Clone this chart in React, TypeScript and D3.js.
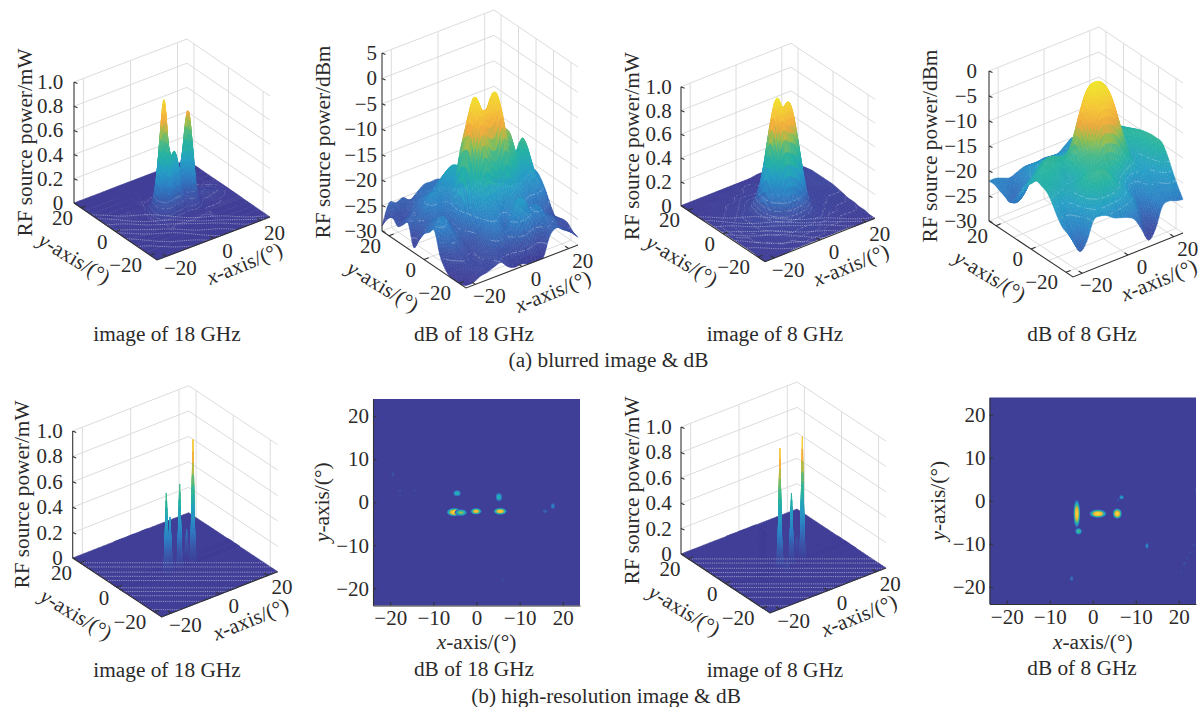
import React, { useEffect, useRef } from 'react';
import * as d3 from 'd3';

const FONT = '"Liberation Serif", serif';
const TEXT = '#2b2a2a';
const GRID = '#dcdcdc';
const BG_BLUE = '#403f97';

const gridAxis = [-24, -21, -18, -15, -12, -9, -6, -3, 0, 3, 6, 9, 12, 15, 18, 21, 24];
const gridRowsAxis = [24, 21, 18, 15, 12, 9, 6, 3, 0, -3, -6, -9, -12, -15, -18, -21, -24];

// blurred image, 18 GHz
const image18X = [-24, -12, -9, -7.5, -6, -4.5, -3, -1.5, 0, 1.5, 3, 4.5, 6, 7.5, 9, 11, 14, 24];
const image18Y = [24, 8, 5, 3, 1.5, 0, -1.5, -3, -4.5, -6, -8, -24];
const image18Z = [
  [0, 0, 0, 0, 0, 0, 0, 0, 0, 0, 0, 0, 0, 0, 0, 0, 0, 0],
  [0, 0, 0, 0, 0.01, 0.01, 0.01, 0.01, 0.01, 0.01, 0.01, 0.01, 0.01, 0.01, 0.01, 0.01, 0.01, 0],
  [0, 0, 0, 0.01, 0.03, 0.05, 0.03, 0.02, 0.02, 0.02, 0.02, 0.03, 0.05, 0.03, 0.02, 0.02, 0.02, 0],
  [0, 0, 0.01, 0.03, 0.1, 0.15, 0.1, 0.07, 0.06, 0.05, 0.06, 0.12, 0.18, 0.12, 0.04, 0.03, 0.04, 0],
  [0, 0, 0.01, 0.06, 0.22, 0.35, 0.25, 0.18, 0.15, 0.12, 0.12, 0.3, 0.42, 0.28, 0.08, 0.04, 0.05, 0],
  [0, 0, 0.02, 0.1, 0.42, 0.72, 0.5, 0.36, 0.34, 0.25, 0.16, 0.35, 0.72, 0.48, 0.12, 0.04, 0.05, 0],
  [0, 0, 0.02, 0.13, 0.55, 0.96, 0.62, 0.48, 0.5, 0.38, 0.18, 0.38, 0.76, 0.5, 0.12, 0.04, 0.03, 0],
  [0, 0, 0.02, 0.1, 0.38, 0.62, 0.42, 0.3, 0.34, 0.24, 0.1, 0.22, 0.4, 0.25, 0.07, 0.02, 0.02, 0],
  [0, 0, 0.01, 0.04, 0.12, 0.2, 0.14, 0.1, 0.1, 0.07, 0.04, 0.08, 0.12, 0.08, 0.03, 0.01, 0.01, 0],
  [0, 0, 0.01, 0.02, 0.03, 0.04, 0.03, 0.02, 0.02, 0.02, 0.02, 0.02, 0.03, 0.02, 0.01, 0.01, 0.01, 0],
  [0, 0, 0, 0.01, 0.01, 0.01, 0.01, 0.01, 0.01, 0.01, 0.01, 0.01, 0.01, 0.01, 0.01, 0, 0, 0],
  [0, 0, 0, 0, 0, 0, 0, 0, 0, 0, 0, 0, 0, 0, 0, 0, 0, 0],
];

// blurred dB, 18 GHz
const db18Z = [
  [-29, -25, -25.5, -25, -26, -25, -24, -24, -24, -25, -26, -26, -26, -26, -27, -27, -28],
  [-27, -26, -26, -26, -25, -24, -24, -24, -24, -25, -26, -25, -25, -25, -26, -27, -28],
  [-26, -27, -27, -25, -24, -24, -23, -23, -24, -24, -25, -24, -24, -25, -26, -27, -27],
  [-27, -26, -25, -24, -23, -23, -21, -21, -21, -23, -24, -23, -23, -24, -25, -26, -27],
  [-26, -25, -25, -23, -22, -21, -19, -18, -19, -22, -22, -22, -23, -23, -24, -26, -26],
  [-25, -25, -24, -21, -21, -21, -18, -18, -19, -21, -20, -21, -22, -22, -22, -24, -25],
  [-29, -26, -25, -23, -23, -22, -19, -18, -20, -19, -17, -18, -20, -20, -21, -23, -23],
  [-27, -25, -24, -24, -24, -22, -12, -9, -11, -10, -8, -12, -14, -18, -18, -21, -21.5],
  [-25, -24, -23, -24, -25, -20, -9, -2, -5, -5, -2.5, -10, -11, -17, -13.5, -19, -21],
  [-24, -23, -22, -24, -25, -21, -9, -3.5, -6, -6, -3.5, -11, -13, -18, -15, -20, -22],
  [-23, -22, -23, -25, -25, -23, -16, -10, -13, -14, -10, -15, -18, -21, -20, -21, -24],
  [-27, -24, -24, -26, -26, -24, -20, -19, -19, -20, -19, -21, -22, -23, -23, -24, -26.3],
  [-29, -26, -26, -27, -27, -25, -22, -21, -23, -22, -21, -23, -23, -24, -25, -26, -27.8],
  [-30, -28, -27, -28, -27, -25, -23, -23, -25, -21, -20, -23, -22, -24, -25, -26, -27],
  [-30, -29, -28, -28, -27, -26, -24, -25, -22, -19, -20, -23, -22, -24, -25, -27, -27],
  [-30, -30, -29, -28, -28, -27, -27, -27, -26, -24, -26, -27, -25, -25, -26, -27, -28],
  [-29.5, -29.5, -28.8, -28.5, -28, -27.6, -29, -29.6, -29.5, -30, -30, -30, -26, -25, -26, -27, -28.5],
];

// blurred image, 8 GHz
const image8Z = [
  [0, 0, 0, 0, 0, 0, 0, 0, 0, 0, 0, 0.01, 0.01, 0.01, 0.01, 0.01, 0.01],
  [0, 0, 0, 0, 0, 0.01, 0.01, 0.01, 0.01, 0.01, 0.01, 0.01, 0.02, 0.02, 0.02, 0.02, 0.02],
  [0, 0, 0, 0.01, 0.01, 0.01, 0.01, 0.01, 0.02, 0.02, 0.01, 0.02, 0.02, 0.03, 0.03, 0.03, 0.03],
  [0, 0, 0.01, 0.01, 0.01, 0.01, 0.02, 0.02, 0.02, 0.02, 0.02, 0.02, 0.03, 0.03, 0.04, 0.04, 0.04],
  [0, 0.01, 0.01, 0.01, 0.02, 0.02, 0.03, 0.03, 0.03, 0.03, 0.03, 0.03, 0.03, 0.03, 0.04, 0.05, 0.05],
  [0.01, 0.01, 0.01, 0.02, 0.02, 0.03, 0.04, 0.05, 0.05, 0.05, 0.04, 0.03, 0.03, 0.03, 0.04, 0.05, 0.05],
  [0.01, 0.01, 0.02, 0.02, 0.03, 0.04, 0.08, 0.14, 0.15, 0.14, 0.08, 0.04, 0.03, 0.03, 0.04, 0.05, 0.05],
  [0.01, 0.02, 0.02, 0.03, 0.04, 0.06, 0.22, 0.42, 0.45, 0.42, 0.26, 0.07, 0.04, 0.04, 0.04, 0.05, 0.05],
  [0.01, 0.02, 0.03, 0.03, 0.05, 0.08, 0.42, 0.8, 0.78, 0.74, 0.48, 0.1, 0.05, 0.04, 0.04, 0.04, 0.05],
  [0.01, 0.02, 0.03, 0.03, 0.05, 0.1, 0.55, 0.99, 0.9, 0.92, 0.6, 0.12, 0.05, 0.04, 0.04, 0.04, 0.04],
  [0.01, 0.02, 0.03, 0.03, 0.05, 0.08, 0.38, 0.74, 0.72, 0.66, 0.38, 0.08, 0.04, 0.04, 0.03, 0.03, 0.03],
  [0.01, 0.01, 0.02, 0.03, 0.04, 0.05, 0.15, 0.3, 0.3, 0.24, 0.12, 0.05, 0.04, 0.03, 0.03, 0.03, 0.02],
  [0.01, 0.01, 0.02, 0.02, 0.03, 0.04, 0.05, 0.08, 0.08, 0.07, 0.05, 0.04, 0.03, 0.03, 0.02, 0.02, 0.02],
  [0.01, 0.01, 0.01, 0.02, 0.02, 0.03, 0.04, 0.04, 0.04, 0.04, 0.03, 0.03, 0.02, 0.02, 0.02, 0.02, 0.01],
  [0.01, 0.01, 0.01, 0.01, 0.02, 0.02, 0.03, 0.03, 0.03, 0.03, 0.02, 0.02, 0.02, 0.01, 0.01, 0.01, 0.01],
  [0, 0.01, 0.01, 0.01, 0.01, 0.01, 0.02, 0.02, 0.02, 0.02, 0.01, 0.01, 0.01, 0.01, 0.01, 0.01, 0],
  [0, 0, 0, 0, 0.01, 0.01, 0.01, 0.01, 0.01, 0.01, 0.01, 0.01, 0.01, 0, 0, 0, 0],
];

// blurred dB, 8 GHz
const db8Z = [
  [-22, -22, -22.5, -23, -22.5, -22, -22, -22, -21.8, -22, -22, -21, -20, -20, -19, -20, -21],
  [-22, -22.5, -23, -23, -22, -21, -21, -21, -21, -21, -21, -20, -19, -19, -18.5, -19, -20],
  [-22.5, -23, -24, -23, -21, -20, -20, -20, -20, -20, -20, -19, -18.5, -18, -18, -18, -19],
  [-23, -24, -24, -22, -20, -19, -19, -19, -19, -19, -19, -18.5, -18, -17.5, -17, -17, -18],
  [-23.5, -24, -23, -20.5, -19, -18, -18.5, -19, -18, -18, -18, -18, -17, -17, -16.5, -16.5, -17],
  [-22, -22, -20, -18.5, -17.5, -17, -18, -18, -17, -16.5, -16.5, -17, -17, -16, -16, -16, -16.5],
  [-20, -19, -17.5, -16, -15.5, -16, -17, -16.5, -15, -14, -14, -15, -16.5, -16, -15, -15.5, -16],
  [-18, -17, -15.5, -14.5, -14.5, -15, -15, -13, -9, -7, -8, -11, -15, -16.5, -15, -15, -15.5],
  [-17, -16, -15, -15, -15.5, -15.5, -12, -7, -3, -2, -3, -7, -13, -17, -16, -15, -15],
  [-15.7, -15.5, -15.5, -16, -17, -16, -10, -4.5, -1.6, -1.2, -2, -5.5, -12, -17.5, -17, -15.5, -14.7],
  [-16, -16, -16.5, -17, -17.5, -16, -12, -7, -3.5, -3, -4, -8, -13, -17.5, -18, -16, -14.5],
  [-16.5, -17, -17.5, -17.5, -17, -16, -14, -11, -8, -8, -9, -12, -16, -18, -18.5, -16.5, -14.5],
  [-18, -19, -19, -17.5, -16, -15, -14.5, -14.5, -14, -14.5, -16, -19.5, -21, -19, -19, -17, -14.7],
  [-20, -20.5, -20, -18, -15.5, -14.5, -14, -14.5, -16, -17.5, -19.5, -22.5, -23, -20, -20, -18, -16.5],
  [-21.5, -22, -21, -18.5, -16, -14.5, -14, -15, -17, -18.5, -20.5, -24, -24, -21, -21, -19.5, -19],
  [-22, -24, -23, -20, -18, -17, -17, -17.5, -19, -20, -22, -26, -25.5, -22, -22, -21.3, -21.3],
  [-22.7, -25.5, -24, -20.3, -20, -20.5, -21.5, -22, -22.5, -23.5, -26, -28.7, -27, -23, -22.5, -23, -23.3],
];

// high-resolution image, 18 GHz
const spikes18X = [-24, -7, -6.2, -5.5, -4.8, -4, -3.2, -1.5, -0.7, 0, 0.7, 1.5, 4, 4.8, 5.5, 6.2, 7, 24];
const spikes18Y = [24, 3, 2, 1.5, 1, 0.5, 0, -1.2, -1.8, -2.4, -3, -3.6, -24];
const spikes18Z = [
  [0, 0, 0, 0, 0, 0, 0, 0, 0, 0, 0, 0, 0, 0, 0, 0, 0, 0],
  [0, 0, 0, 0, 0, 0, 0, 0, 0, 0, 0, 0, 0, 0, 0, 0, 0, 0],
  [0, 0, 0, 0, 0.03, 0, 0, 0, 0, 0, 0, 0, 0, 0, 0, 0, 0, 0],
  [0, 0, 0, 0, 0, 0, 0, 0, 0, 0, 0, 0, 0, 0, 0.03, 0, 0, 0],
  [0, 0, 0, 0, 0, 0, 0, 0, 0, 0, 0, 0, 0, 0.04, 0.23, 0.04, 0, 0],
  [0, 0, 0, 0, 0, 0, 0, 0, 0, 0, 0, 0, 0, 0, 0.03, 0, 0, 0],
  [0, 0, 0, 0, 0, 0, 0, 0, 0, 0, 0, 0, 0, 0, 0, 0, 0, 0],
  [0, 0, 0, 0, 0, 0, 0, 0, 0, 0, 0, 0, 0, 0, 0, 0, 0, 0],
  [0, 0, 0, 0.16, 0, 0.1, 0, 0, 0, 0.17, 0, 0, 0, 0, 0.22, 0, 0, 0],
  [0, 0, 0.13, 0.63, 0.15, 0.43, 0.08, 0, 0.14, 0.66, 0.14, 0, 0, 0.18, 0.97, 0.18, 0, 0],
  [0, 0, 0, 0.16, 0, 0.1, 0, 0, 0, 0.17, 0, 0, 0, 0, 0.22, 0, 0, 0],
  [0, 0, 0, 0, 0, 0, 0, 0, 0, 0, 0, 0, 0, 0, 0, 0, 0, 0],
  [0, 0, 0, 0, 0, 0, 0, 0, 0, 0, 0, 0, 0, 0, 0, 0, 0, 0],
];

// high-resolution image, 8 GHz
const spikes8X = [-24, -5.3, -4.5, -3.8, -3.1, -2.3, -0.5, 0.3, 1, 1.7, 2.5, 4, 4.8, 5.5, 6.2, 7, 24];
const spikes8Y = [24, 2, 1, 0, -1.5, -2.4, -3, -3.6, -4.5, -6, -7, -8, -24];
const spikes8Z = [
  [0, 0, 0, 0, 0, 0, 0, 0, 0, 0, 0, 0, 0, 0, 0, 0, 0],
  [0, 0, 0, 0, 0, 0, 0, 0, 0, 0, 0, 0, 0, 0, 0, 0, 0],
  [0, 0, 0, 0, 0, 0, 0, 0, 0, 0, 0, 0, 0, 0, 0.13, 0, 0],
  [0, 0, 0, 0, 0, 0, 0, 0, 0, 0, 0, 0, 0, 0, 0, 0, 0],
  [0, 0, 0, 0.08, 0, 0, 0, 0, 0, 0, 0, 0, 0, 0, 0, 0, 0],
  [0, 0, 0, 0.3, 0, 0, 0, 0, 0.12, 0, 0, 0, 0, 0.2, 0, 0, 0],
  [0, 0, 0.16, 0.945, 0.16, 0, 0, 0.12, 0.555, 0.12, 0, 0, 0.18, 0.967, 0.18, 0, 0],
  [0, 0, 0, 0.3, 0, 0, 0, 0, 0.12, 0, 0, 0, 0, 0.2, 0, 0, 0],
  [0, 0, 0, 0.1, 0, 0, 0, 0, 0, 0, 0, 0, 0, 0, 0, 0, 0],
  [0, 0, 0, 0.03, 0, 0, 0, 0, 0, 0, 0, 0, 0, 0, 0, 0, 0],
  [0, 0, 0, 0.11, 0, 0, 0, 0, 0, 0, 0, 0, 0, 0, 0, 0, 0],
  [0, 0, 0, 0, 0, 0, 0, 0, 0, 0, 0, 0, 0, 0, 0, 0, 0],
  [0, 0, 0, 0, 0, 0, 0, 0, 0, 0, 0, 0, 0, 0, 0, 0, 0],
];

// heat-map spots: x, y, rx, ry, level
const heat18Spots = [
  [-5.1, -2.3, 1.9, 1.0, 1.0],
  [-3.6, -2.4, 1.5, 0.8, 0.72],
  [-0.1, -2.1, 1.3, 0.75, 0.92],
  [5.5, -2.1, 1.6, 0.8, 0.95],
  [-4.5, 2.1, 0.95, 0.75, 0.52],
  [5.2, 1.2, 0.8, 1.05, 0.52],
  [17.7, -0.9, 0.55, 0.8, 0.3],
  [15.9, -2.1, 0.7, 0.55, 0.18],
  [-19.4, 6.5, 0.45, 0.7, 0.12],
  [-17.7, 2.7, 0.5, 0.5, 0.1],
  [-14.2, 2.7, 0.5, 0.4, 0.08],
  [6.1, -18.2, 0.5, 0.4, 0.08],
];
const heat8Spots = [
  [-3.7, -3, 0.8, 3.4, 0.95],
  [-3.3, -7.1, 0.8, 0.8, 0.62],
  [1.2, -3, 2.1, 1.0, 1.0],
  [5.7, -3, 1.1, 1.25, 1.0],
  [6.7, 0.8, 0.55, 0.55, 0.42],
  [5.9, 0.2, 0.35, 0.4, 0.15],
  [12.6, -10.5, 0.45, 0.8, 0.3],
  [-4.9, -18.1, 0.45, 0.7, 0.25],
  [21.3, -14.6, 0.35, 0.5, 0.14],
  [22, -13.3, 0.35, 0.4, 0.12],
  [22.7, -12, 0.35, 0.4, 0.1],
  [23.6, -10.2, 0.35, 0.4, 0.1],
  [20.7, -16.7, 0.3, 0.4, 0.1],
  [24, 2.5, 0.3, 0.55, 0.12],
];

const xyTicks = [-20, 0, 20];
const xyTickLabels = ['−20', '0', '20'];
const denseYTicks = [-20, -10, 0, 10, 20];
const powerTicks = [0, 0.2, 0.4, 0.6, 0.8, 1];
const powerTickLabels = ['0', '0.2', '0.4', '0.6', '0.8', '1.0'];
const db18Ticks = [-30, -25, -20, -15, -10, -5, 0, 5];
const db18TickLabels = ['−30', '−25', '−20', '−15', '−10', '−5', '0', '5'];
const db8Ticks = [-30, -25, -20, -15, -10, -5, 0];
const db8TickLabels = ['−30', '−25', '−20', '−15', '−10', '−5', '0'];
const heatXTicks = [-20, -10, 0, 10, 20];
const heatXLabels = ['−20', '−10', '0', '−10', '20'];
const heatYTicks = [20, 10, 0, -10, -20];
const heatYLabels = ['20', '10', '0', '−10', '−20'];

const streaksDense = [0.48, 0.52, 0.57, 0.61, 0.65, 0.72, 0.755, 0.796, 0.85, 0.93];
const streaksWavy = [0.56, 0.6, 0.64, 0.7, 0.74, 0.8, 0.86];
const streakWiggle = [0, -1.5, 1, -2, 0.5, 2, -1, 1.5, -0.5];

// dotted contour levels that show through the mesh
const contours18 = [0.008, 0.025, 0.05, 0.1, 0.15];
const contours8 = [0.015, 0.025, 0.035, 0.07, 0.1, 0.14, 0.2];
const contoursDb18 = [-27.5, -25, -22.5];
const contoursDb8 = [-20.5, -19, -17.5];

const colorStops = [0, 0.12, 0.25, 0.38, 0.5, 0.6, 0.68, 0.76, 0.86, 1];
const colorValues = ['#403e97', '#3e55a8', '#2f7fc4', '#279fc6', '#25b3a3', '#4cb987', '#9bbf4d', '#f0a93f', '#f5c53a', '#f0e52f'];
const colorScale = d3.scaleLinear<string>().domain(colorStops).range(colorValues).clamp(true);
const LEVELS = 160;
const palette = d3.range(LEVELS).map((i) => colorScale(i / (LEVELS - 1)));

const surfacePanels = [
  { L: [74, 203], F: [157, 260], R: [270, 217], H: 121, zDomain: [0, 1], clim: [0, 1], xs: image18X, ys: image18Y, zs: image18Z, sub: 5, smooth: true,
    zTicks: powerTicks, zLabels: powerTickLabels, yGrid: xyTicks, unit: 'RF source power/mW', zLabelDx: -49, zTickDx: -10.7, streaks: streaksWavy, wavy: true, streakOpacity: 0.6, contours: contours18 },
  { L: [382, 231], F: [466, 288], R: [578, 245], H: 178, zDomain: [-30, 5], clim: [-30, -1], xs: gridAxis, ys: gridRowsAxis, zs: db18Z, sub: 4, smooth: true,
    zTicks: db18Ticks, zLabels: db18TickLabels, yGrid: denseYTicks, unit: 'RF source power/dBm', zLabelDx: -59, zTickDx: -5, streaks: [], wavy: false, streakOpacity: 0, contours: contoursDb18 },
  { L: [681, 205.7], F: [765, 261.7], R: [875, 218.3], H: 119, zDomain: [0, 1], clim: [0, 1], xs: gridAxis, ys: gridRowsAxis, zs: image8Z, sub: 5, smooth: true,
    zTicks: powerTicks, zLabels: powerTickLabels, yGrid: xyTicks, unit: 'RF source power/mW', zLabelDx: -49, zTickDx: -9.3, streaks: streaksWavy, wavy: true, streakOpacity: 0.6, contours: contours8 },
  { L: [989, 221], F: [1073, 277], R: [1183, 233], H: 150, zDomain: [-30, 0], clim: [-30, -1], xs: gridAxis, ys: gridRowsAxis, zs: db8Z, sub: 4, smooth: true,
    zTicks: db8Ticks, zLabels: db8TickLabels, yGrid: denseYTicks, unit: 'RF source power/dBm', zLabelDx: -59, zTickDx: -12, streaks: [], wavy: false, streakOpacity: 0, contours: contoursDb8 },
  { L: [72.7, 558], F: [161.7, 617], R: [277.7, 571.7], H: 127, zDomain: [0, 1], clim: [0, 1], xs: spikes18X, ys: spikes18Y, zs: spikes18Z, sub: 8, smooth: false,
    zTicks: powerTicks, zLabels: powerTickLabels, yGrid: xyTicks, unit: 'RF source power/mW', zLabelDx: -51, zTickDx: -10, streaks: streaksDense, wavy: false, streakOpacity: 0.65, contours: [] },
  { L: [681, 554], F: [770, 613], R: [886, 568], H: 127, zDomain: [0, 1], clim: [0, 1], xs: spikes8X, ys: spikes8Y, zs: spikes8Z, sub: 8, smooth: false,
    zTicks: powerTicks, zLabels: powerTickLabels, yGrid: xyTicks, unit: 'RF source power/mW', zLabelDx: -49, zTickDx: -9.3, streaks: streaksDense, wavy: false, streakOpacity: 0.65, contours: [] },
];

const heatPanels = [
  { x0: 373, x1: 580, y0: 399, y1: 605.5, spots: heat18Spots, xLabelY: 642, yLabelX: 322 },
  { x0: 989.5, x1: 1196, y0: 397.5, y1: 604, spots: heat8Spots, xLabelY: 642, yLabelX: 938 },
];

const captions = [
  { text: 'image of 18 GHz', x: 167, y: 334 },
  { text: 'dB of 18 GHz', x: 474, y: 334 },
  { text: 'image of 8 GHz', x: 775, y: 334 },
  { text: 'dB of 8 GHz', x: 1082, y: 334 },
  { text: '(a) blurred image & dB', x: 608.5, y: 360 },
  { text: 'image of 18 GHz', x: 167, y: 670 },
  { text: 'dB of 18 GHz', x: 474, y: 669 },
  { text: 'image of 8 GHz', x: 775, y: 670 },
  { text: 'dB of 8 GHz', x: 1082, y: 668 },
  { text: '(b) high-resolution image & dB', x: 606, y: 696 },
];

const TICK_FONT = 21;
const LABEL_FONT = 21.3;
const CAPTION_FONT = 21.3;

// cubic hermite along one line of samples, or straight when smooth is off
const sampleLine = (ts, vs, t, smooth) => {
  let i = d3.bisectRight(ts, t) - 1;
  i = Math.max(0, Math.min(ts.length - 2, i));
  const h = ts[i + 1] - ts[i];
  const s = (t - ts[i]) / h;
  if (!smooth) return vs[i] + (vs[i + 1] - vs[i]) * s;
  const slope = (k) => {
    const a = Math.max(0, k - 1);
    const b = Math.min(ts.length - 1, k + 1);
    return (vs[b] - vs[a]) / (ts[b] - ts[a]);
  };
  const m0 = slope(i) * h;
  const m1 = slope(i + 1) * h;
  const s2 = s * s;
  const s3 = s2 * s;
  return (2 * s3 - 3 * s2 + 1) * vs[i] + (s3 - 2 * s2 + s) * m0 + (-2 * s3 + 3 * s2) * vs[i + 1] + (s3 - s2) * m1;
};

const refine = (ts, sub) => {
  const out = [];
  for (let i = 0; i < ts.length - 1; i++) {
    for (let k = 0; k < sub; k++) out.push(ts[i] + ((ts[i + 1] - ts[i]) * k) / sub);
  }
  out.push(ts[ts.length - 1]);
  return out;
};

const label3d = (g, text, x, y, angle) => {
  const t = g.append('text')
    .attr('transform', `translate(${x},${y}) rotate(${angle})`)
    .attr('text-anchor', 'middle')
    .attr('dominant-baseline', 'central')
    .attr('font-size', LABEL_FONT)
    .attr('fill', TEXT);
  if (text[1] === '-') {
    t.append('tspan').attr('font-style', 'italic').text(text[0]);
    t.append('tspan').text(text.slice(1));
  } else {
    t.text(text);
  }
};

const drawSurfacePanel = (svg, p, index) => {
  const g = svg.append('g');
  const frac = d3.scaleLinear().domain([-24, 24]).range([0, 1]);
  const zScale = d3.scaleLinear().domain(p.zDomain).range([0, p.H]);
  const [Lx, Ly] = p.L;
  const [Fx, Fy] = p.F;
  const [Rx, Ry] = p.R;
  const project = (x, y, z) => {
    const u = frac(x);
    const v = frac(y);
    return [Fx + u * (Rx - Fx) + v * (Lx - Fx), Fy + u * (Ry - Fy) + v * (Ly - Fy) - zScale(z)];
  };
  const zMin = p.zDomain[0];
  const zMax = p.zDomain[1];
  const poly = (pts) => 'M' + pts.map((q) => `${q[0].toFixed(2)},${q[1].toFixed(2)}`).join('L');
  const gridLine = (pts) => g.append('path').attr('d', poly(pts)).attr('fill', 'none').attr('stroke', GRID).attr('stroke-width', 1);

  // back walls and floor
  xyTicks.forEach((x) => gridLine([project(x, -24, zMin), project(x, 24, zMin), project(x, 24, zMax)]));
  p.yGrid.forEach((y) => gridLine([project(-24, y, zMin), project(24, y, zMin), project(24, y, zMax)]));
  p.zTicks.forEach((z) => gridLine([project(-24, 24, z), project(24, 24, z), project(24, -24, z)]));

  // surface, painted from the back corner forward
  const colorT = d3.scaleLinear().domain(p.clim).range([0, LEVELS - 1]).clamp(true);
  const fineX = refine(p.xs, p.sub);
  const ascY = p.ys.slice().reverse();
  const ascZ = p.zs.slice().reverse();
  const fineY = refine(ascY, p.sub);
  const byRow = ascZ.map((row) => fineX.map((x) => sampleLine(p.xs, row, x, p.smooth)));
  const fineZ = fineY.map((y) => fineX.map((_, i) => {
    const col = byRow.map((r) => r[i]);
    return Math.max(zMin, sampleLine(ascY, col, y, p.smooth));
  }));
  const runs = [];
  for (let j = fineY.length - 2; j >= 0; j--) {
    for (let i = fineX.length - 2; i >= 0; i--) {
      const zs = [fineZ[j][i], fineZ[j][i + 1], fineZ[j + 1][i + 1], fineZ[j + 1][i]];
      const level = Math.round(colorT(d3.mean(zs)));
      const corners = [
        project(fineX[i], fineY[j], zs[0]),
        project(fineX[i + 1], fineY[j], zs[1]),
        project(fineX[i + 1], fineY[j + 1], zs[2]),
        project(fineX[i], fineY[j + 1], zs[3]),
      ];
      const d = poly(corners) + 'Z';
      const last = runs[runs.length - 1];
      if (last && last.level === level) last.d.push(d);
      else runs.push({ level, d: [d] });

      // dotted contour crossing this cell
      if ((i + j) % 3 !== 0) {
        p.contours.forEach((c) => {
          const hits = [];
          for (let e = 0; e < 4; e++) {
            const z0 = zs[e];
            const z1 = zs[(e + 1) % 4];
            if ((z0 - c) * (z1 - c) < 0) {
              const s = (c - z0) / (z1 - z0);
              const a = corners[e];
              const b = corners[(e + 1) % 4];
              hits.push([a[0] + (b[0] - a[0]) * s, a[1] + (b[1] - a[1]) * s]);
            }
          }
          if (hits.length >= 2) {
            const tail = runs[runs.length - 1];
            if (tail.level === -1) tail.d.push(poly(hits.slice(0, 2)));
            else runs.push({ level: -1, d: [poly(hits.slice(0, 2))] });
          }
        });
      }
    }
  }
  g.append('g').selectAll('path').data(runs).join('path')
    .attr('d', (r) => r.d.join(''))
    .attr('fill', (r) => (r.level < 0 ? 'none' : palette[r.level]))
    .attr('stroke', (r) => (r.level < 0 ? '#e8ecf4' : palette[r.level]))
    .attr('stroke-opacity', (r) => (r.level < 0 ? 0.6 : 1))
    .attr('stroke-width', (r) => (r.level < 0 ? 0.7 : 0.5))
    .attr('stroke-linejoin', 'round');

  // moire streaks on the flat part of the surface
  const back = project(24, 24, zMin);
  const clipId = `floor-${index}`;
  svg.append('clipPath').attr('id', clipId).append('path')
    .attr('d', poly([project(-24, 24, zMin), project(-24, -24, zMin), project(24, -24, zMin), back]) + 'Z');
  const streakY = d3.scaleLinear().domain([0, 1]).range([back[1], Fy]);
  const streakX = d3.scaleLinear().domain([0, streakWiggle.length - 1]).range([Lx, Rx]);
  const streakPath = d3.line().curve(d3.curveBasis);
  g.append('g').attr('clip-path', `url(#${clipId})`).selectAll('path').data(p.streaks).join('path')
    .attr('d', (s, n) => streakPath(streakWiggle.map((w, k) => [
      streakX(k),
      streakY(s) + (p.wavy ? streakWiggle[(k + n * 2) % streakWiggle.length] * 1.2 : 0),
    ])))
    .attr('fill', 'none')
    .attr('stroke', '#fff')
    .attr('stroke-width', 0.7)
    .attr('stroke-dasharray', '1.2 1')
    .attr('opacity', p.streakOpacity);

  // axes
  const axisLine = (pts) => g.append('path').attr('d', poly(pts)).attr('fill', 'none').attr('stroke', '#333').attr('stroke-width', 1.1);
  axisLine([project(-24, 24, zMin), project(-24, 24, zMax)]);
  axisLine([project(-24, 24, zMin), project(-24, -24, zMin), project(24, -24, zMin)]);

  p.zTicks.forEach((z, i) => {
    const a = project(-24, 24, z);
    axisLine([a, [a[0] + 3.5, a[1] + 1.5]]);
    g.append('text').attr('x', Lx + p.zTickDx).attr('y', a[1]).attr('text-anchor', 'end').attr('dominant-baseline', 'central')
      .attr('font-size', TICK_FONT).attr('fill', TEXT).text(p.zLabels[i]);
  });
  xyTicks.forEach((t, i) => {
    const a = project(t, -24, zMin);
    const b = project(t, -22, zMin);
    axisLine([a, b]);
    g.append('text').attr('x', a[0] + 14).attr('y', a[1] + 12).attr('text-anchor', 'middle').attr('dominant-baseline', 'central')
      .attr('font-size', TICK_FONT).attr('fill', TEXT).text(xyTickLabels[i]);
    const c = project(-24, t, zMin);
    const d = project(-22, t, zMin);
    axisLine([c, d]);
    g.append('text').attr('x', c[0] - 8).attr('y', c[1] + 10).attr('text-anchor', 'end').attr('dominant-baseline', 'central')
      .attr('font-size', TICK_FONT).attr('fill', TEXT).text(xyTickLabels[i]);
  });

  label3d(g, p.unit, Lx + p.zLabelDx, Ly - p.H / 2, -90);
  label3d(g, 'y-axis/(°)', (Lx + Fx) / 2 - 41, (Ly + Fy) / 2 + 27, 31);
  label3d(g, 'x-axis/(°)', (Fx + Rx) / 2 + 31, (Fy + Ry) / 2 + 25, -22);
};

const drawHeatPanel = (svg, p, index) => {
  const x = d3.scaleLinear().domain([-24, 24]).range([p.x0, p.x1]);
  const y = d3.scaleLinear().domain([-24, 24]).range([p.y1, p.y0]);
  const g = svg.append('g');
  const clipId = `heat-${index}`;
  svg.append('clipPath').attr('id', clipId).append('rect')
    .attr('x', p.x0).attr('y', p.y0).attr('width', p.x1 - p.x0).attr('height', p.y1 - p.y0);
  const blurId = `heat-blur-${index}`;
  svg.append('filter').attr('id', blurId).append('feGaussianBlur').attr('stdDeviation', 0.5);
  g.append('rect').attr('x', p.x0).attr('y', p.y0).attr('width', p.x1 - p.x0).attr('height', p.y1 - p.y0).attr('fill', BG_BLUE);

  const layers = d3.range(0.06, 1.01, 0.06);
  const clip = g.append('g').attr('clip-path', `url(#${clipId})`);
  const spots = clip.append('g').attr('filter', `url(#${blurId})`);
  p.spots.forEach(([sx, sy, rx, ry, level]) => {
    layers.forEach((f) => {
      const r = Math.sqrt(1 - f);
      spots.append('ellipse')
        .attr('cx', x(sx)).attr('cy', y(sy))
        .attr('rx', Math.abs(x(rx) - x(0)) * r).attr('ry', Math.abs(y(ry) - y(0)) * r)
        .attr('fill', colorScale(level * f));
    });
  });

  const axisX = d3.axisBottom(x).tickValues(heatXTicks).tickSizeInner(-3.5).tickSizeOuter(0).tickPadding(5)
    .tickFormat((_, i) => heatXLabels[i]);
  const axisY = d3.axisLeft(y).tickValues(heatYTicks).tickSizeInner(-3.5).tickSizeOuter(0).tickPadding(4)
    .tickFormat((_, i) => heatYLabels[i]);
  const gx = g.append('g').attr('transform', `translate(0,${p.y1})`).call(axisX);
  const gy = g.append('g').attr('transform', `translate(${p.x0},0)`).call(axisY);
  [gx, gy].forEach((a) => {
    a.selectAll('path').attr('stroke', '#333').attr('stroke-width', 1.1);
    a.selectAll('line').attr('stroke', '#333').attr('stroke-width', 1);
    a.selectAll('text').attr('font-size', TICK_FONT).attr('font-family', FONT).attr('fill', TEXT);
  });

  label3d(g, 'x-axis/(°)', (p.x0 + p.x1) / 2, p.xLabelY, 0);
  label3d(g, 'y-axis/(°)', p.yLabelX, (p.y0 + p.y1) / 2, -90);
};

const App = () => {
  const ref = useRef<SVGSVGElement>(null);

  useEffect(() => {
    const svg = d3.select(ref.current);
    svg.selectAll('*').remove();
    surfacePanels.forEach((p, i) => drawSurfacePanel(svg, p, i));
    heatPanels.forEach((p, i) => drawHeatPanel(svg, p, i));
    svg.append('g').selectAll('text').data(captions).join('text')
      .attr('x', (c) => c.x).attr('y', (c) => c.y)
      .attr('text-anchor', 'middle').attr('dominant-baseline', 'central')
      .attr('font-size', CAPTION_FONT).attr('fill', TEXT)
      .text((c) => c.text);
  }, []);

  return (
    <svg
      ref={ref}
      width={1200}
      height={707}
      fontFamily={FONT}
      style={{ position: 'absolute', left: 0, top: 0, background: '#fff' }}
    />
  );
};

export default App;
